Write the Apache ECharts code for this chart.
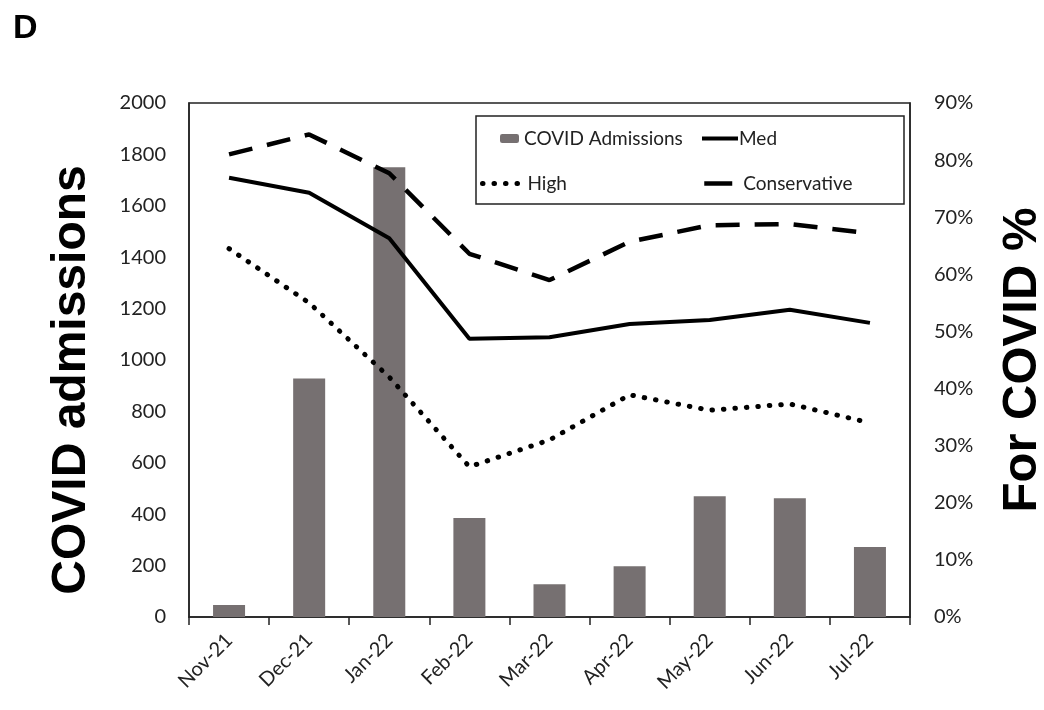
<!DOCTYPE html>
<html>
<head>
<meta charset="utf-8">
<script src="https://cdn.jsdelivr.net/npm/echarts@6/dist/echarts.min.js"></script>
<style>
  html, body { margin: 0; padding: 0; background: #fff; }
  #chart { width: 1044px; height: 710px; }
</style>
</head>
<body>
<div id="chart"></div>
<script>
// months
var months = ["Nov-21", "Dec-21", "Jan-22", "Feb-22", "Mar-22", "Apr-22", "May-22", "Jun-22", "Jul-22"];
// COVID admissions (left axis)
var admissions = [47, 928, 1750, 385, 127, 197, 470, 462, 272];
// % for COVID (right axis)
var medPct = [76.9, 74.3, 66.3, 48.7, 49.0, 51.3, 52.0, 53.8, 51.5];
var highPct = [64.5, 55.0, 42.0, 26.3, 31.0, 38.9, 36.2, 37.3, 34.0];
var consPct = [81.0, 84.5, 77.7, 63.6, 59.0, 65.7, 68.6, 68.8, 67.2];

var tickFont = "Lato, 'Open Sans', sans-serif";
var titleFont = "'Liberation Sans', Arial, sans-serif";
var legendText = { fontSize: 19, fontFamily: tickFont, color: "#222" };
// line legends: hide the symbol dot, keep the line style
var noDot = { color: "transparent", borderWidth: 0 };

var chart = echarts.init(document.getElementById("chart"));
chart.setOption({
  animation: false,
  grid: {
    left: 189,
    right: 134,
    top: 103,
    bottom: 93,
    outerBoundsMode: "none",
    containLabel: false,
    show: true,
    borderColor: "#222",
    borderWidth: 1.5
  },
  graphic: [
    {
      type: "text",
      left: 13,
      top: 12,
      style: { text: "D", font: "bold 34px " + titleFont, fill: "#000" }
    },
    {
      type: "rect",
      shape: { x: 476, y: 116, width: 428, height: 88 },
      style: { fill: "none", stroke: "#222", lineWidth: 1.5 },
      z: 10
    }
  ],
  legend: [
    { data: ["COVID Admissions"], left: 495, top: 124, itemWidth: 19, itemHeight: 9, textStyle: legendText },
    {
      data: ["Med"], left: 695, top: 124, itemWidth: 36, itemHeight: 12, itemStyle: noDot,
      lineStyle: { color: "#000", width: 4 },
      textStyle: { fontSize: 19, fontFamily: tickFont, color: "#222", padding: [0, 0, 0, -4] }
    },
    {
      data: ["High"], left: 475, top: 169, itemWidth: 40, itemHeight: 12, itemStyle: noDot,
      lineStyle: { color: "#000", width: 5, type: [0.5, 11], cap: "round" }, textStyle: legendText
    },
    {
      data: ["Conservative"], left: 697, top: 169, itemWidth: 28, itemHeight: 12, itemStyle: noDot,
      lineStyle: { color: "#000", width: 4.5, type: "solid" },
      textStyle: { fontSize: 19, fontFamily: tickFont, color: "#222", padding: [0, 0, 0, 6] }
    }
  ],
  xAxis: {
    type: "category",
    data: months,
    axisLine: { lineStyle: { color: "#222", width: 1.5 } },
    axisTick: { show: true, length: 8, lineStyle: { color: "#222", width: 1.5 } },
    axisLabel: { rotate: 45, fontSize: 20, fontFamily: tickFont, color: "#222", margin: 20, padding: [12, 0, 0, 0] }
  },
  yAxis: [
    {
      type: "value",
      min: 0,
      max: 2000,
      interval: 200,
      name: "COVID admissions",
      nameLocation: "middle",
      nameRotate: 90,
      nameGap: 93,
      nameTextStyle: { fontSize: 48, fontWeight: "bold", fontFamily: titleFont, color: "#000", padding: [0, 40, 0, 0] },
      axisLine: { show: true, lineStyle: { color: "#222", width: 1.5 } },
      axisTick: { show: false },
      splitLine: { show: false },
      axisLabel: {
        formatter: function (v) { return String(v); },
        fontSize: 20, fontFamily: tickFont, color: "#222", margin: 23
      }
    },
    {
      type: "value",
      min: 0,
      max: 90,
      interval: 10,
      position: "right",
      name: "For COVID %",
      nameLocation: "middle",
      nameRotate: 90,
      nameGap: 88,
      nameTextStyle: { fontSize: 49, fontWeight: "bold", fontFamily: titleFont, color: "#000" },
      axisLine: { show: true, lineStyle: { color: "#222", width: 1.5 } },
      axisTick: { show: false },
      splitLine: { show: false },
      axisLabel: { formatter: "{value}%", fontSize: 20, fontFamily: tickFont, color: "#222", margin: 24 }
    }
  ],
  series: [
    {
      name: "COVID Admissions",
      type: "bar",
      data: admissions,
      barWidth: 32,
      itemStyle: { color: "#767071" }
    },
    {
      name: "Med",
      type: "line",
      yAxisIndex: 1,
      data: medPct,
      symbol: "none",
      itemStyle: { color: "#000" },
      lineStyle: { color: "#000", width: 4 }
    },
    {
      name: "High",
      type: "line",
      yAxisIndex: 1,
      data: highPct,
      symbol: "none",
      itemStyle: { color: "#000" },
      lineStyle: { color: "#000", width: 5, type: [0.5, 11], cap: "round" }
    },
    {
      name: "Conservative",
      type: "line",
      yAxisIndex: 1,
      data: consPct,
      symbol: "none",
      itemStyle: { color: "#000" },
      lineStyle: { color: "#000", width: 4.5, type: [24, 15] }
    }
  ]
});
</script>
</body>
</html>
